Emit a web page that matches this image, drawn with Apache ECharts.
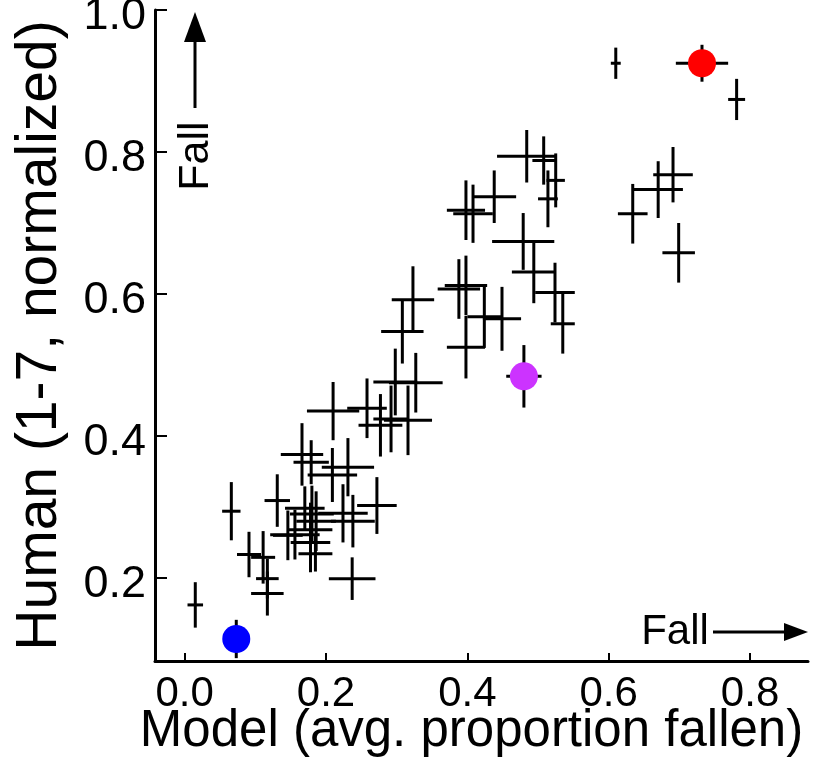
<!DOCTYPE html>
<html>
<head>
<meta charset="utf-8">
<script src="https://cdn.jsdelivr.net/npm/echarts@6/dist/echarts.min.js"></script>
<style>
  html, body { margin: 0; padding: 0; background: #fff; }
  #chart { width: 816px; height: 775px; }
</style>
</head>
<body>
<div id="chart"></div>
<script>
// Model prediction (mean proportion fallen) per stimulus
const modelMean = [
  0.610, 0.781, 0.691, 0.670, 0.634, 0.699,
  0.484, 0.508, 0.525, 0.514, 0.438, 0.398, 0.408,
  0.479, 0.494, 0.524, 0.535, 0.388, 0.398, 0.424, 0.449, 0.398,
  0.323, 0.308, 0.298, 0.327, 0.277, 0.292, 0.316, 0.258, 0.210,
  0.166, 0.179, 0.209, 0.231, 0.131, 0.272,
  0.180, 0.186, 0.178, 0.156, 0.178, 0.185, 0.224, 0.238, 0.170,
  0.237, 0.066, 0.015, 0.091, 0.111, 0.117, 0.117, 0.146
];
// Human judgement (1-7 scale, normalized) per stimulus
const humanMean = [
  0.925, 0.874, 0.768, 0.747, 0.713, 0.658,
  0.794, 0.788, 0.760, 0.734, 0.737, 0.718, 0.713,
  0.674, 0.631, 0.602, 0.558, 0.607, 0.612, 0.568, 0.565, 0.525,
  0.592, 0.547, 0.476, 0.475, 0.415, 0.424, 0.422, 0.439, 0.435,
  0.374, 0.363, 0.345, 0.356, 0.309, 0.302,
  0.290, 0.280, 0.268, 0.261, 0.250, 0.234, 0.291, 0.280, 0.298,
  0.199, 0.294, 0.162, 0.233, 0.229, 0.199, 0.178, 0.260
];
// Error bar half-widths for the model estimate
const modelSpread = [
  0.007, 0.012, 0.028, 0.035, 0.021, 0.023,
  0.042, 0.016, 0.013, 0.014, 0.031, 0.027, 0.028,
  0.044, 0.031, 0.028, 0.017, 0.030, 0.030, 0.024, 0.027, 0.027,
  0.030, 0.030, 0.031, 0.038, 0.031, 0.025, 0.034, 0.028, 0.037,
  0.030, 0.025, 0.035, 0.037, 0.018, 0.028,
  0.031, 0.028, 0.031, 0.035, 0.028, 0.024, 0.035, 0.031, 0.028,
  0.033, 0.013, 0.011, 0.017, 0.017, 0.016, 0.023, 0.021
];
// Error bar half-heights for the human ratings
const humanSpread = [
  0.022, 0.029, 0.039, 0.040, 0.042, 0.042,
  0.037, 0.034, 0.038, 0.040, 0.037, 0.042, 0.041,
  0.040, 0.044, 0.042, 0.042, 0.042, 0.042, 0.044, 0.045, 0.044,
  0.047, 0.045, 0.047, 0.042, 0.044, 0.047, 0.049, 0.042, 0.041,
  0.044, 0.031, 0.038, 0.041, 0.037, 0.040,
  0.040, 0.042, 0.038, 0.035, 0.042, 0.025, 0.041, 0.037, 0.031,
  0.030, 0.041, 0.032, 0.032, 0.037, 0.028, 0.031, 0.035
];

// Three highlighted stimuli
const highlightModel = [0.732, 0.480, 0.073];
const highlightHuman = [0.925, 0.484, 0.114];
const highlightModelSpread = [0.037, 0.025, 0.011];
const highlightHumanSpread = [0.026, 0.044, 0.027];
const highlightColors = ['#ff0000', '#cc33ff', '#0000ff'];

const xTicks = [0.0, 0.2, 0.4, 0.6, 0.8];
const yTicks = [0.2, 0.4, 0.6, 0.8, 1.0];

const FONT = '"Liberation Sans", Arial, Helvetica, sans-serif';

const crossData = modelMean.map((x, i) => [x, humanMean[i], modelSpread[i], humanSpread[i]]);
const highlightCross = highlightModel.map((x, i) =>
  [x, highlightHuman[i], highlightModelSpread[i], highlightHumanSpread[i]]);
const highlightDots = highlightModel.map((x, i) => ({
  value: [x, highlightHuman[i]],
  itemStyle: { color: highlightColors[i], opacity: 1 }
}));

function renderCross(params, api) {
  const x = api.value(0), y = api.value(1);
  const ex = api.value(2), ey = api.value(3);
  const l = api.coord([x - ex, y]), r = api.coord([x + ex, y]);
  const t = api.coord([x, y + ey]), b = api.coord([x, y - ey]);
  const style = { stroke: '#000', lineWidth: 3, lineCap: 'butt' };
  return {
    type: 'group',
    children: [
      { type: 'line', shape: { x1: l[0], y1: l[1], x2: r[0], y2: r[1] }, style },
      { type: 'line', shape: { x1: t[0], y1: t[1], x2: b[0], y2: b[1] }, style }
    ]
  };
}

const chart = echarts.init(document.getElementById('chart'), null, { renderer: 'canvas' });

chart.setOption({
  animation: false,
  backgroundColor: '#fff',
  grid: { left: 155, right: 8, top: 10, bottom: 114, containLabel: false, outerBoundsMode: 'none' },
  xAxis: {
    type: 'value',
    min: -0.042,
    max: 0.882,
    name: 'Model (avg. proportion fallen)',
    nameLocation: 'middle',
    nameGap: 45,
    nameMoveOverlap: false,
    nameTextStyle: { fontSize: 51, color: '#000', fontFamily: FONT, padding: [0, 20, 0, 0] },
    axisLine: { onZero: false, lineStyle: { color: '#000', width: 3 } },
    axisTick: { show: true, inside: true, length: 8, customValues: xTicks, lineStyle: { color: '#000', width: 2 } },
    axisLabel: { customValues: xTicks, formatter: v => v.toFixed(1), fontSize: 42, color: '#000', fontFamily: FONT, margin: 12 },
    splitLine: { show: false }
  },
  yAxis: {
    type: 'value',
    min: 0.083,
    max: 1.0,
    name: 'Human (1-7, normalized)',
    nameLocation: 'middle',
    nameGap: 86,
    nameMoveOverlap: false,
    nameTextStyle: { fontSize: 57, color: '#000', fontFamily: FONT },
    axisLine: { onZero: false, lineStyle: { color: '#000', width: 3 } },
    axisTick: { show: true, inside: true, length: 12, customValues: yTicks, lineStyle: { color: '#000', width: 2 } },
    axisLabel: {
      customValues: yTicks,
      formatter: v => '{v|' + v.toFixed(1) + '}',
      margin: 9,
      rich: { v: { fontSize: 45, color: '#000', fontFamily: FONT, padding: [13, 0, 0, 0] } }
    },
    splitLine: { show: false }
  },
  series: [
    {
      type: 'custom',
      renderItem: renderCross,
      data: crossData,
      encode: { x: 0, y: 1 },
      clip: false,
      z: 2
    },
    {
      type: 'custom',
      renderItem: renderCross,
      data: highlightCross,
      encode: { x: 0, y: 1 },
      clip: false,
      z: 2
    },
    {
      type: 'scatter',
      data: highlightDots,
      symbol: 'circle',
      symbolSize: 28,
      itemStyle: { opacity: 1 },
      z: 3
    }
  ],
  graphic: [
    // vertical "Fall" arrow
    { type: 'line', shape: { x1: 195, y1: 108, x2: 195, y2: 36 }, style: { stroke: '#000', lineWidth: 3 } },
    { type: 'polygon', shape: { points: [[195, 12], [184, 42], [206, 42]] }, style: { fill: '#000' } },
    {
      type: 'text', x: 196, y: 156, rotation: Math.PI / 2,
      style: { text: 'Fall', fontSize: 43, fill: '#000', fontFamily: FONT, align: 'center', verticalAlign: 'middle' }
    },
    // horizontal "Fall" arrow
    {
      type: 'text', x: 675, y: 632,
      style: { text: 'Fall', fontSize: 42, fill: '#000', fontFamily: FONT, align: 'center', verticalAlign: 'middle' }
    },
    { type: 'line', shape: { x1: 713, y1: 632, x2: 790, y2: 632 }, style: { stroke: '#000', lineWidth: 3 } },
    { type: 'polygon', shape: { points: [[808, 632], [784, 623], [784, 641]] }, style: { fill: '#000' } }
  ]
});
</script>
</body>
</html>
